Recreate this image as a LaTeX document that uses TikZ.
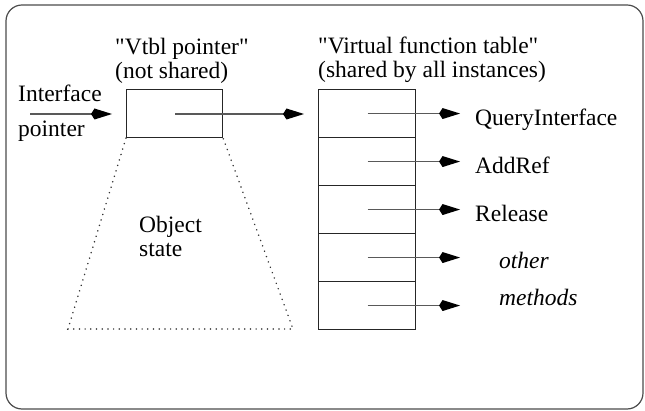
\documentclass[tikz,border=0pt]{standalone}
\usepackage{fontspec}
\setmainfont{Liberation Serif}
\usetikzlibrary{arrows.meta}
\begin{document}
\begin{tikzpicture}[x=1pt,y=-1pt,
  lbl/.style={anchor=base west,inner sep=0pt,font=\fontsize{23.5}{25}\selectfont},
  ptr/.style={draw=black!65,line width=1.4pt,-{Kite[length=21pt,width=11pt,inset=3.5pt,color=black,fill=black]}},
  boxline/.style={draw=black!85,line width=1.1pt},
  frame/.style={draw=black!70,line width=1.2pt,rounded corners=16pt}]
\useasboundingbox (0,0) rectangle (645,411);
\draw[frame] (6,5) rectangle (643,409);
% vtbl pointer box
\node[boxline,minimum width=96pt,minimum height=48pt,inner sep=0pt,anchor=north west] (vp) at (126,89) {};
% vtable rows
\foreach \i/\nm in {0/r1,1/r2,2/r3,3/r4,4/r5}{
  \node[boxline,minimum width=97pt,minimum height=48pt,inner sep=0pt,anchor=north west] (\nm) at (318,89+48*\i) {};
}
% labels
\node[lbl] (h1a) at (115,55) {\textquotedbl Vtbl pointer\textquotedbl};
\node[lbl] (h1b) at (115,79) {(not shared)};
\node[lbl] (h2a) at (318,54) {\textquotedbl Virtual function table\textquotedbl};
\node[lbl] (h2b) at (318,78) {(shared by all instances)};
\node[lbl] (ip1) at (18,102) {Interface};
\node[lbl] (ip2) at (18,137) {pointer};
\node[lbl] (os1) at (139,233) {Object};
\node[lbl] (os2) at (139,257) {state};
\node[lbl] (f1) at (475,126) {QueryInterface};
\node[lbl] (f2) at (475,174) {AddRef};
\node[lbl] (f3) at (475,222) {Release};
\node[lbl] (f4) at (499,269) {\itshape other};
\node[lbl] (f5) at (499,306) {\itshape methods};
% coordinates for arrows
\coordinate (ipS) at (30,114);
\coordinate (ipE) at (112,114);
\coordinate (vpS) at (175,114);
\coordinate (vpE) at (304,114);
\draw[ptr] (ipS) -- (ipE);
\draw[ptr] (vpS) -- (vpE);
\foreach \nm in {r1,r2,r3,r4,r5}{
  \draw[ptr] ([xshift=0.5pt]\nm.center) -- ([xshift=93pt]\nm.center);
}
% object state trapezoid
\coordinate (tl) at (68,329);
\coordinate (tr) at (293,329);
\draw[black!80,line width=1.6pt,line cap=round,dash pattern=on 0.1pt off 5.6pt] (vp.south west) -- (tl) -- (tr) -- (vp.south east);
\end{tikzpicture}
\end{document}
